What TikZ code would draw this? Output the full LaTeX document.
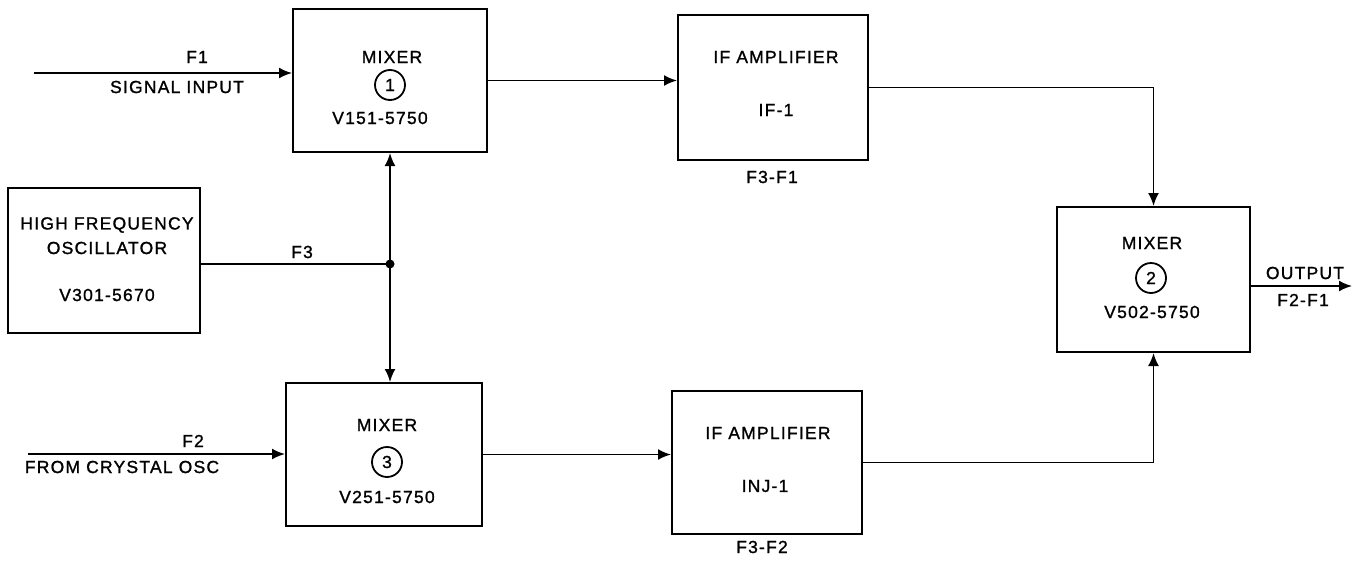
\documentclass[tikz,border=0pt]{standalone}
\usepackage{fontspec}
\setmainfont{Liberation Sans}[LetterSpace=7,FakeBold=1.2]
\usetikzlibrary{arrows.meta}
\begin{document}
\begin{tikzpicture}[x=1pt,y=-1pt,
  blk/.style={draw,line width=2pt,minimum width=#1,minimum height=143pt,inner sep=0pt},
  lbl/.style={font=\fontsize{17.5}{20}\selectfont,inner sep=0pt},
  num/.style={draw,circle,line width=1.8pt,minimum size=30pt,inner sep=0pt,font=\fontsize{17.5}{20}\selectfont},
  conn/.style={line width=1.9pt},
  arr/.style={conn,-{Latex[length=13pt,width=11pt]}}]
\useasboundingbox (0,0) rectangle (1358,560);
% boxes
\node[blk=194pt] (m1) at (390,80.5) {};
\node[blk=190pt,minimum height=145pt] (if1) at (773,87.5) {};
\node[blk=192pt,minimum height=145pt] (hf) at (104,260.5) {};
\node[blk=196pt] (m3) at (384,454.5) {};
\node[blk=190pt] (if2) at (767,462.5) {};
\node[blk=193pt,minimum height=145pt] (m2) at (1153.5,279.5) {};
% box texts
\node[lbl] (m1a) at (392,57) {MIXER};
\node[num] (m1n) at (390,85) {1};
\node[lbl] (m1b) at (380,118) {V151-5750};
\node[lbl] (if1a) at (776,57) {IF AMPLIFIER};
\node[lbl] (if1b) at (776,110) {IF-1};
\node[lbl] (if1c) at (772,177) {F3-F1};
\node[lbl] (hfa) at (107,225) {HIGH FREQUENCY};
\node[lbl] (hfb) at (107,248) {OSCILLATOR};
\node[lbl] (hfc) at (107,295) {V301-5670};
\node[lbl] (m3a) at (387,425) {MIXER};
\node[num] (m3n) at (387,462) {3};
\node[lbl] (m3b) at (387,497) {V251-5750};
\node[lbl] (if2a) at (768,433) {IF AMPLIFIER};
\node[lbl] (if2b) at (765,486) {INJ-1};
\node[lbl] (if2c) at (762,547) {F3-F2};
\node[lbl] (m2a) at (1152,243) {MIXER};
\node[num] (m2n) at (1151,278) {2};
\node[lbl] (m2b) at (1152,312) {V502-5750};
% line labels
\node[lbl] (f1) at (197,57) {F1};
\node[lbl] (sig) at (177,87) {SIGNAL INPUT};
\node[lbl] (f2) at (193,441) {F2};
\node[lbl] (fco) at (122,467) {FROM CRYSTAL OSC};
\node[lbl] (f3) at (302,252) {F3};
\node[lbl] (outl) at (1305,273) {OUTPUT};
\node[lbl] (f2f1) at (1303,300) {F2-F1};
% coordinates
\coordinate (in1) at (34,73);
\coordinate (in2) at (28,454);
\coordinate (j) at (390,264);
\coordinate (out) at (1352,286);
% connectors
\draw[arr] (in1) -- (in1 -| m1.west);
\draw[arr] (in2) -- (in2 -| m3.west);
\draw[arr] (m1.east) -- (m1.east -| if1.west);
\draw[arr] (m3.east) -- (m3.east -| if2.west);
\draw[arr] (if1.east) -| (m2.north);
\draw[arr] (if2.east) -| (m2.south);
\draw[conn] (hf.east |- j) -- (j);
\draw[arr] (j) -- (j |- m1.south);
\draw[arr] (j) -- (j |- m3.north);
\fill (j) circle (4.5pt);
\draw[arr] (m2.east |- out) -- (out);
\end{tikzpicture}
\end{document}
